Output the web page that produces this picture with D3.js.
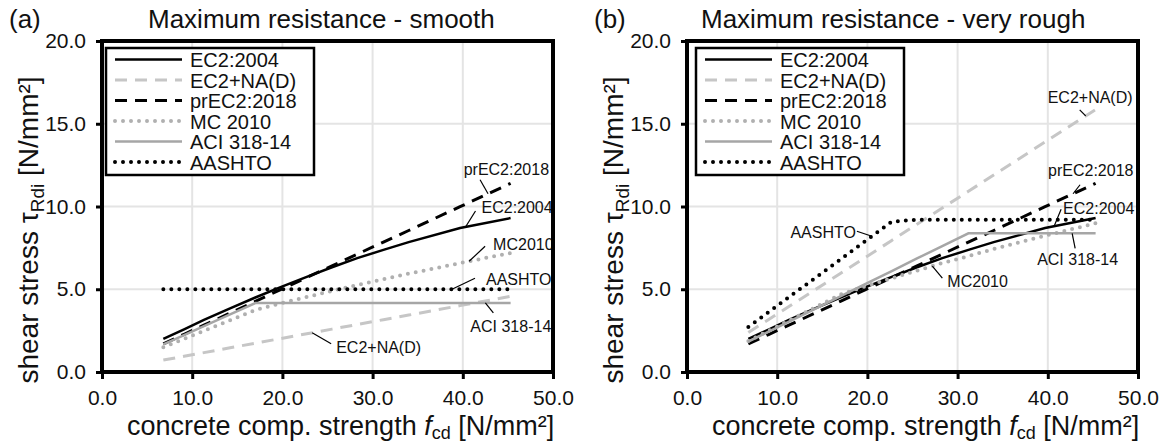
<!DOCTYPE html>
<html>
<head>
<meta charset="utf-8">
<script src="https://cdn.jsdelivr.net/npm/d3@7"></script>
<style>
body { margin: 0; background: #fff; }
text { font-family: "Liberation Sans", Arial, sans-serif; fill: #111; }
</style>
</head>
<body>
<div id="app"></div>
<script>

// design compressive strength values (x) shared by all curves
var fcd = [6.8, 9.1, 11.3, 14.2, 17.0, 19.8, 22.7, 25.5, 28.3, 31.2, 34.0, 39.7, 45.3];

var seriesNames = ["EC2:2004", "EC2+NA(D)", "prEC2:2018", "MC 2010", "ACI 318-14", "AASHTO"];

// (a) smooth
var smoothEC2 = [2.0, 2.58, 3.15, 3.85, 4.5, 5.13, 5.75, 6.33, 6.88, 7.38, 7.85, 8.7, 9.3];
var smoothNA = [0.72, 0.95, 1.17, 1.46, 1.74, 2.02, 2.31, 2.59, 2.87, 3.16, 3.44, 4.01, 4.57];
var smoothPrEC2 = [1.7, 2.28, 2.83, 3.56, 4.27, 4.98, 5.71, 6.41, 7.12, 7.85, 8.55, 9.99, 11.4];
var smoothMC = [1.5, 2.0, 2.49, 3.12, 3.74, 4.15, 4.53, 4.9, 5.26, 5.6, 5.94, 6.58, 7.19];
var smoothACI = [1.67, 2.23, 2.77, 3.48, 4.17, 4.17, 4.17, 4.17, 4.17, 4.17, 4.17, 4.17, 4.17];
var smoothAASHTO = [5.0, 5.0, 5.0, 5.0, 5.0, 5.0, 5.0, 5.0, 5.0, 5.0, 5.0, 5.0, 5.0];

// (b) very rough
var roughEC2 = [2.0, 2.58, 3.15, 3.85, 4.5, 5.13, 5.75, 6.33, 6.88, 7.38, 7.85, 8.7, 9.3];
var roughNA = [2.38, 3.19, 3.96, 4.97, 5.95, 6.93, 7.95, 8.93, 9.91, 10.92, 11.9, 13.9, 15.86];
var roughPrEC2 = [1.7, 2.28, 2.83, 3.56, 4.27, 4.98, 5.71, 6.41, 7.12, 7.85, 8.55, 9.99, 11.4];
var roughMC = [1.87, 2.5, 3.11, 3.9, 4.68, 5.19, 5.66, 6.13, 6.58, 7.0, 7.43, 8.23, 8.99];
var roughACI = [1.83, 2.45, 3.04, 3.82, 4.57, 5.33, 6.1, 6.86, 7.61, 8.38, 8.38, 8.38, 8.38];
var roughAASHTO = [2.72, 3.64, 4.52, 5.68, 6.8, 7.92, 9.08, 9.2, 9.2, 9.2, 9.2, 9.2, 9.2];

var xTicks = [0, 10, 20, 30, 40, 50];
var yTicks = [0, 5, 10, 15, 20];

// curve labels: series index, x value where the leader meets the curve
var smoothNotes = [
    {text: "prEC2:2018", s: 2, at: 42.8},
    {text: "EC2:2004", s: 0, at: 40.3},
    {text: "MC2010", s: 3, at: 40.7},
    {text: "AASHTO", s: 5, at: 38.8},
    {text: "ACI 318-14", s: 4, at: 42.5},
    {text: "EC2+NA(D)", s: 1, at: 23.3}
];
var roughNotes = [
    {text: "EC2+NA(D)", s: 1, at: 44.2},
    {text: "prEC2:2018", s: 2, at: 42.8},
    {text: "EC2:2004", s: 0, at: 40.7},
    {text: "ACI 318-14", s: 4, at: 42.7},
    {text: "MC2010", s: 3, at: 27.2},
    {text: "AASHTO", s: 5, at: 20.5}
];

// leader / label offsets in pixels, relative to the point on the curve
var smoothNoteLayout = [
    {lx: -8, ly: -14, tx: 61, ty: -19, anchor: "end"},
    {lx: 10, ly: -16, tx: 16, ty: -14, anchor: "start"},
    {lx: 16, ly: -15, tx: 24, ty: -11, anchor: "start"},
    {lx: 23, ly: -11, tx: 34, ty: -4, anchor: "start"},
    {lx: 8, ly: 10, tx: -15, ty: 29, anchor: "start"},
    {lx: 19, ly: 11, tx: 24, ty: 20, anchor: "start"}
];
var roughNoteLayout = [
    {lx: -6, ly: -6, tx: -38, ty: -13, anchor: "start"},
    {lx: 7, ly: -9, tx: -25, ty: -18, anchor: "start"},
    {lx: 7, ly: -17, tx: 9, ty: -12, anchor: "start"},
    {lx: 3, ly: 15, tx: -35, ty: 32, anchor: "start"},
    {lx: 10, ly: 12, tx: 15, ty: 21, anchor: "start"},
    {lx: -15, ly: -5, tx: -16, ty: 2, anchor: "end"}
];

var styles = [
    {color: "#000", width: 2.5, dash: null, cap: "butt"},
    {color: "#c6c6c6", width: 3, dash: "12 8", cap: "butt"},
    {color: "#000", width: 3, dash: "12 8", cap: "butt"},
    {color: "#b0b0b0", width: 4, dash: "0 8", cap: "round"},
    {color: "#a6a6a6", width: 2.5, dash: null, cap: "butt"},
    {color: "#000", width: 4, dash: "0 8", cap: "round"}
];

var panels = [
    {tag: "(a)", title: "Maximum resistance - smooth", left: 102, titleX: 148, legendX: 106,
     series: [smoothEC2, smoothNA, smoothPrEC2, smoothMC, smoothACI, smoothAASHTO],
     notes: smoothNotes, layout: smoothNoteLayout},
    {tag: "(b)", title: "Maximum resistance - very rough", left: 687, titleX: 701, legendX: 696,
     series: [roughEC2, roughNA, roughPrEC2, roughMC, roughACI, roughAASHTO],
     notes: roughNotes, layout: roughNoteLayout}
];

var TOP = 41, BOTTOM = 372, WIDTH = 451;

var svg = d3.select("#app")
    .append("svg")
    .attr("width", 1162)
    .attr("height", 445);

function valueAt(arr, xv) {
    for (var i = 0; i < fcd.length - 1; i++) {
	if (xv >= fcd[i] && xv <= fcd[i + 1]) {
	    var t = (xv - fcd[i]) / (fcd[i + 1] - fcd[i]);
	    return arr[i] + t * (arr[i + 1] - arr[i]);
	}
    }
    return arr[arr.length - 1];
}

function drawPanel(p) {
    var x = d3.scaleLinear().domain([0, 50]).range([p.left, p.left + WIDTH]);
    var y = d3.scaleLinear().domain([0, 20]).range([BOTTOM, TOP]);
    var g = svg.append("g");

    // grid
    g.selectAll(".vgrid")
	.data(xTicks.slice(1, -1))
	.enter().append("line")
	.attr("x1", x).attr("x2", x)
	.attr("y1", TOP).attr("y2", BOTTOM)
	.style("stroke", "#e4e4e4").style("stroke-width", 2);
    g.selectAll(".hgrid")
	.data(yTicks.slice(1, -1))
	.enter().append("line")
	.attr("y1", y).attr("y2", y)
	.attr("x1", p.left).attr("x2", p.left + WIDTH)
	.style("stroke", "#e4e4e4").style("stroke-width", 2);

    // curves
    var line = d3.line()
	.x(function (d, i) { return x(fcd[i]); })
	.y(function (d) { return y(d); });

    p.series.forEach(function (vals, k) {
	var st = styles[k];
	g.append("path")
	    .attr("d", line(vals))
	    .style("fill", "none")
	    .style("stroke", st.color)
	    .style("stroke-width", st.width)
	    .style("stroke-dasharray", st.dash)
	    .style("stroke-linecap", st.cap);
    });

    // curve labels
    p.notes.forEach(function (n, k) {
	var lay = p.layout[k];
	var px = x(n.at), py = y(valueAt(p.series[n.s], n.at));
	g.append("line")
	    .attr("x1", px).attr("y1", py)
	    .attr("x2", px + lay.lx).attr("y2", py + lay.ly)
	    .style("stroke", "#000").style("stroke-width", 1.2);
	g.append("text")
	    .attr("x", px + lay.tx).attr("y", py + lay.ty)
	    .attr("text-anchor", lay.anchor)
	    .style("font-size", "16px")
	    .text(n.text);
    });

    // axes
    var xAxis = d3.axisBottom(x).tickValues(xTicks).tickFormat(d3.format(".1f"))
	.tickSize(7).tickPadding(11);
    var gx = g.append("g").attr("transform", "translate(0," + BOTTOM + ")").call(xAxis);
    var yAxis = d3.axisLeft(y).tickValues(yTicks).tickFormat(d3.format(".1f"))
	.tickSize(6).tickPadding(10);
    var gy = g.append("g").attr("transform", "translate(" + p.left + ",0)").call(yAxis);
    [gx, gy].forEach(function (a) {
	a.select(".domain").remove();
	a.selectAll("line").style("stroke", "#000").style("stroke-width", 3);
	a.selectAll("text").style("font-size", "21px").style("font-family", "Liberation Sans, Arial, sans-serif").attr("fill", "#111");
    });

    // frame
    g.append("rect")
	.attr("x", p.left).attr("y", TOP)
	.attr("width", WIDTH).attr("height", BOTTOM - TOP)
	.style("fill", "none").style("stroke", "#000").style("stroke-width", 4);

    // legend
    var lg = g.append("g").attr("transform", "translate(" + p.legendX + ",48)");
    lg.append("rect")
	.attr("width", 208).attr("height", 127)
	.style("fill", "#fff").style("stroke", "#000").style("stroke-width", 2.5);
    var rows = lg.selectAll(".row")
	.data(seriesNames)
	.enter().append("g")
	.attr("transform", function (d, i) { return "translate(0," + (19 + i * 20.5) + ")"; });
    rows.append("line")
	.attr("x1", 9).attr("x2", 76).attr("y1", -7.5).attr("y2", -7.5)
	.each(function (d, i) {
	    var st = styles[i];
	    d3.select(this)
		.style("stroke", st.color)
		.style("stroke-width", st.width)
		.style("stroke-dasharray", st.dash)
		.style("stroke-linecap", st.cap);
	});
    rows.append("text")
	.attr("x", 84).attr("y", 0)
	.style("font-size", "20px")
	.text(function (d) { return d; });

    // titles
    g.append("text").attr("x", p.left - 93).attr("y", 28)
	.style("font-size", "26px").text(p.tag);
    g.append("text").attr("x", p.titleX).attr("y", 28)
	.style("font-size", "26px").text(p.title);

    var xl = g.append("text").attr("x", p.left + 25).attr("y", 435).style("font-size", "27px");
    xl.append("tspan").text("concrete comp. strength ");
    xl.append("tspan").style("font-style", "italic").text("f");
    xl.append("tspan").style("font-size", "18px").attr("dy", 4).text("cd");
    xl.append("tspan").attr("dy", -4).text(" [N/mm²]");

    var yl = g.append("text")
	.attr("transform", "translate(" + (p.left - 64) + ",230) rotate(-90)")
	.attr("text-anchor", "middle")
	.style("font-size", "28px");
    yl.append("tspan").text("shear stress τ");
    yl.append("tspan").style("font-size", "19px").attr("dy", 6).text("Rdi");
    yl.append("tspan").attr("dy", -6).text(" [N/mm²]");
}

panels.forEach(drawPanel);

</script>
</body>
</html>
